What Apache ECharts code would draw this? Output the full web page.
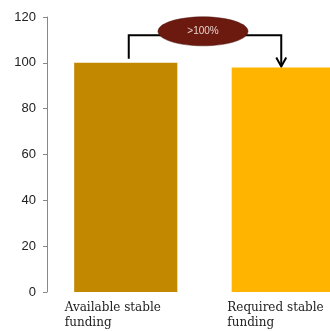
<!DOCTYPE html>
<html>
<head>
<meta charset="utf-8">
<script src="https://cdn.jsdelivr.net/npm/echarts@6/dist/echarts.min.js"></script>
<style>
html,body{margin:0;padding:0;background:#fff;}
#chart{width:330px;height:331px;}
</style>
</head>
<body>
<div id="chart"></div>
<script>
// Funding categories and their values (%)
const categories = ['Available stable\nfunding', 'Required stable\nfunding'];
const values = [100, 98];
const barColors = ['#c18800', '#ffb400'];
const yTicks = { min: 0, max: 120, interval: 20 };
// Ratio callout text and the level of the bracket line above the bars
const ratioLabel = '>100%';
const bracketLevel = 112;

const chart = echarts.init(document.getElementById('chart'), null, { renderer: 'canvas' });

// left-aligned labels, shifted back from the category centre
const labelShift = [-61, -56];

chart.setOption({
  animation: false,
  // plot area runs past the right edge, so the second bar is cut off
  grid: { left: 47, top: 17, bottom: 39, right: -32, containLabel: false, outerBoundsMode: 'none' },
  xAxis: {
    type: 'category',
    data: categories.map((c, i) => ({
      value: c,
      textStyle: { align: 'left', padding: [0, 0, 0, labelShift[i]] }
    })),
    axisLine: { show: false },
    axisTick: { show: false },
    axisLabel: {
      align: 'left',
      margin: 8,
      fontFamily: 'DejaVu Serif, Liberation Serif, serif',
      fontSize: 12,
      lineHeight: 15,
      color: '#222'
    }
  },
  yAxis: {
    type: 'value',
    min: yTicks.min,
    max: yTicks.max,
    interval: yTicks.interval,
    axisLine: { show: true, lineStyle: { color: '#888', width: 1 } },
    axisTick: { show: true, length: 4, lineStyle: { color: '#888' } },
    splitLine: { show: false },
    axisLabel: {
      margin: 11,
      fontFamily: 'Liberation Sans, Arial, sans-serif',
      fontSize: 13,
      color: '#222'
    }
  },
  series: [{
    type: 'bar',
    barWidth: '65.5%',
    data: values.map((v, i) => ({ value: v, itemStyle: { color: barColors[i] } }))
  }]
});

// Bracket connecting the two bars, with the ratio callout on top
function drawBracket() {
  const a = chart.convertToPixel({ seriesIndex: 0 }, [0, values[0]]);
  const b = chart.convertToPixel({ seriesIndex: 0 }, [1, values[1]]);
  const lvl = chart.convertToPixel({ seriesIndex: 0 }, [0, bracketLevel])[1];
  const xl = a[0] + 3;
  const xr = b[0] - 2;
  const tipY = b[1] - 1;
  const cx = (xl + xr) / 2 - 2;
  chart.setOption({
    graphic: [
      {
        type: 'polyline',
        shape: { points: [[xl, a[1] - 4], [xl, lvl], [xr, lvl], [xr, tipY]] },
        style: { stroke: '#000', lineWidth: 2, fill: null }
      },
      {
        type: 'polyline',
        shape: { points: [[xr - 5, tipY - 9], [xr, tipY], [xr + 5, tipY - 9]] },
        style: { stroke: '#000', lineWidth: 2, fill: null }
      },
      {
        type: 'ellipse',
        shape: { cx: cx, cy: lvl - 4, rx: 45, ry: 14.5 },
        style: { fill: '#6c1a10', stroke: '#4a120a', lineWidth: 0.5 }
      },
      {
        type: 'text',
        x: cx, y: lvl - 4,
        style: {
          text: ratioLabel,
          fill: '#e6d2cc',
          font: '10px Liberation Sans, Arial, sans-serif',
          align: 'center',
          verticalAlign: 'middle'
        }
      }
    ]
  });
}
drawBracket();
</script>
</body>
</html>
